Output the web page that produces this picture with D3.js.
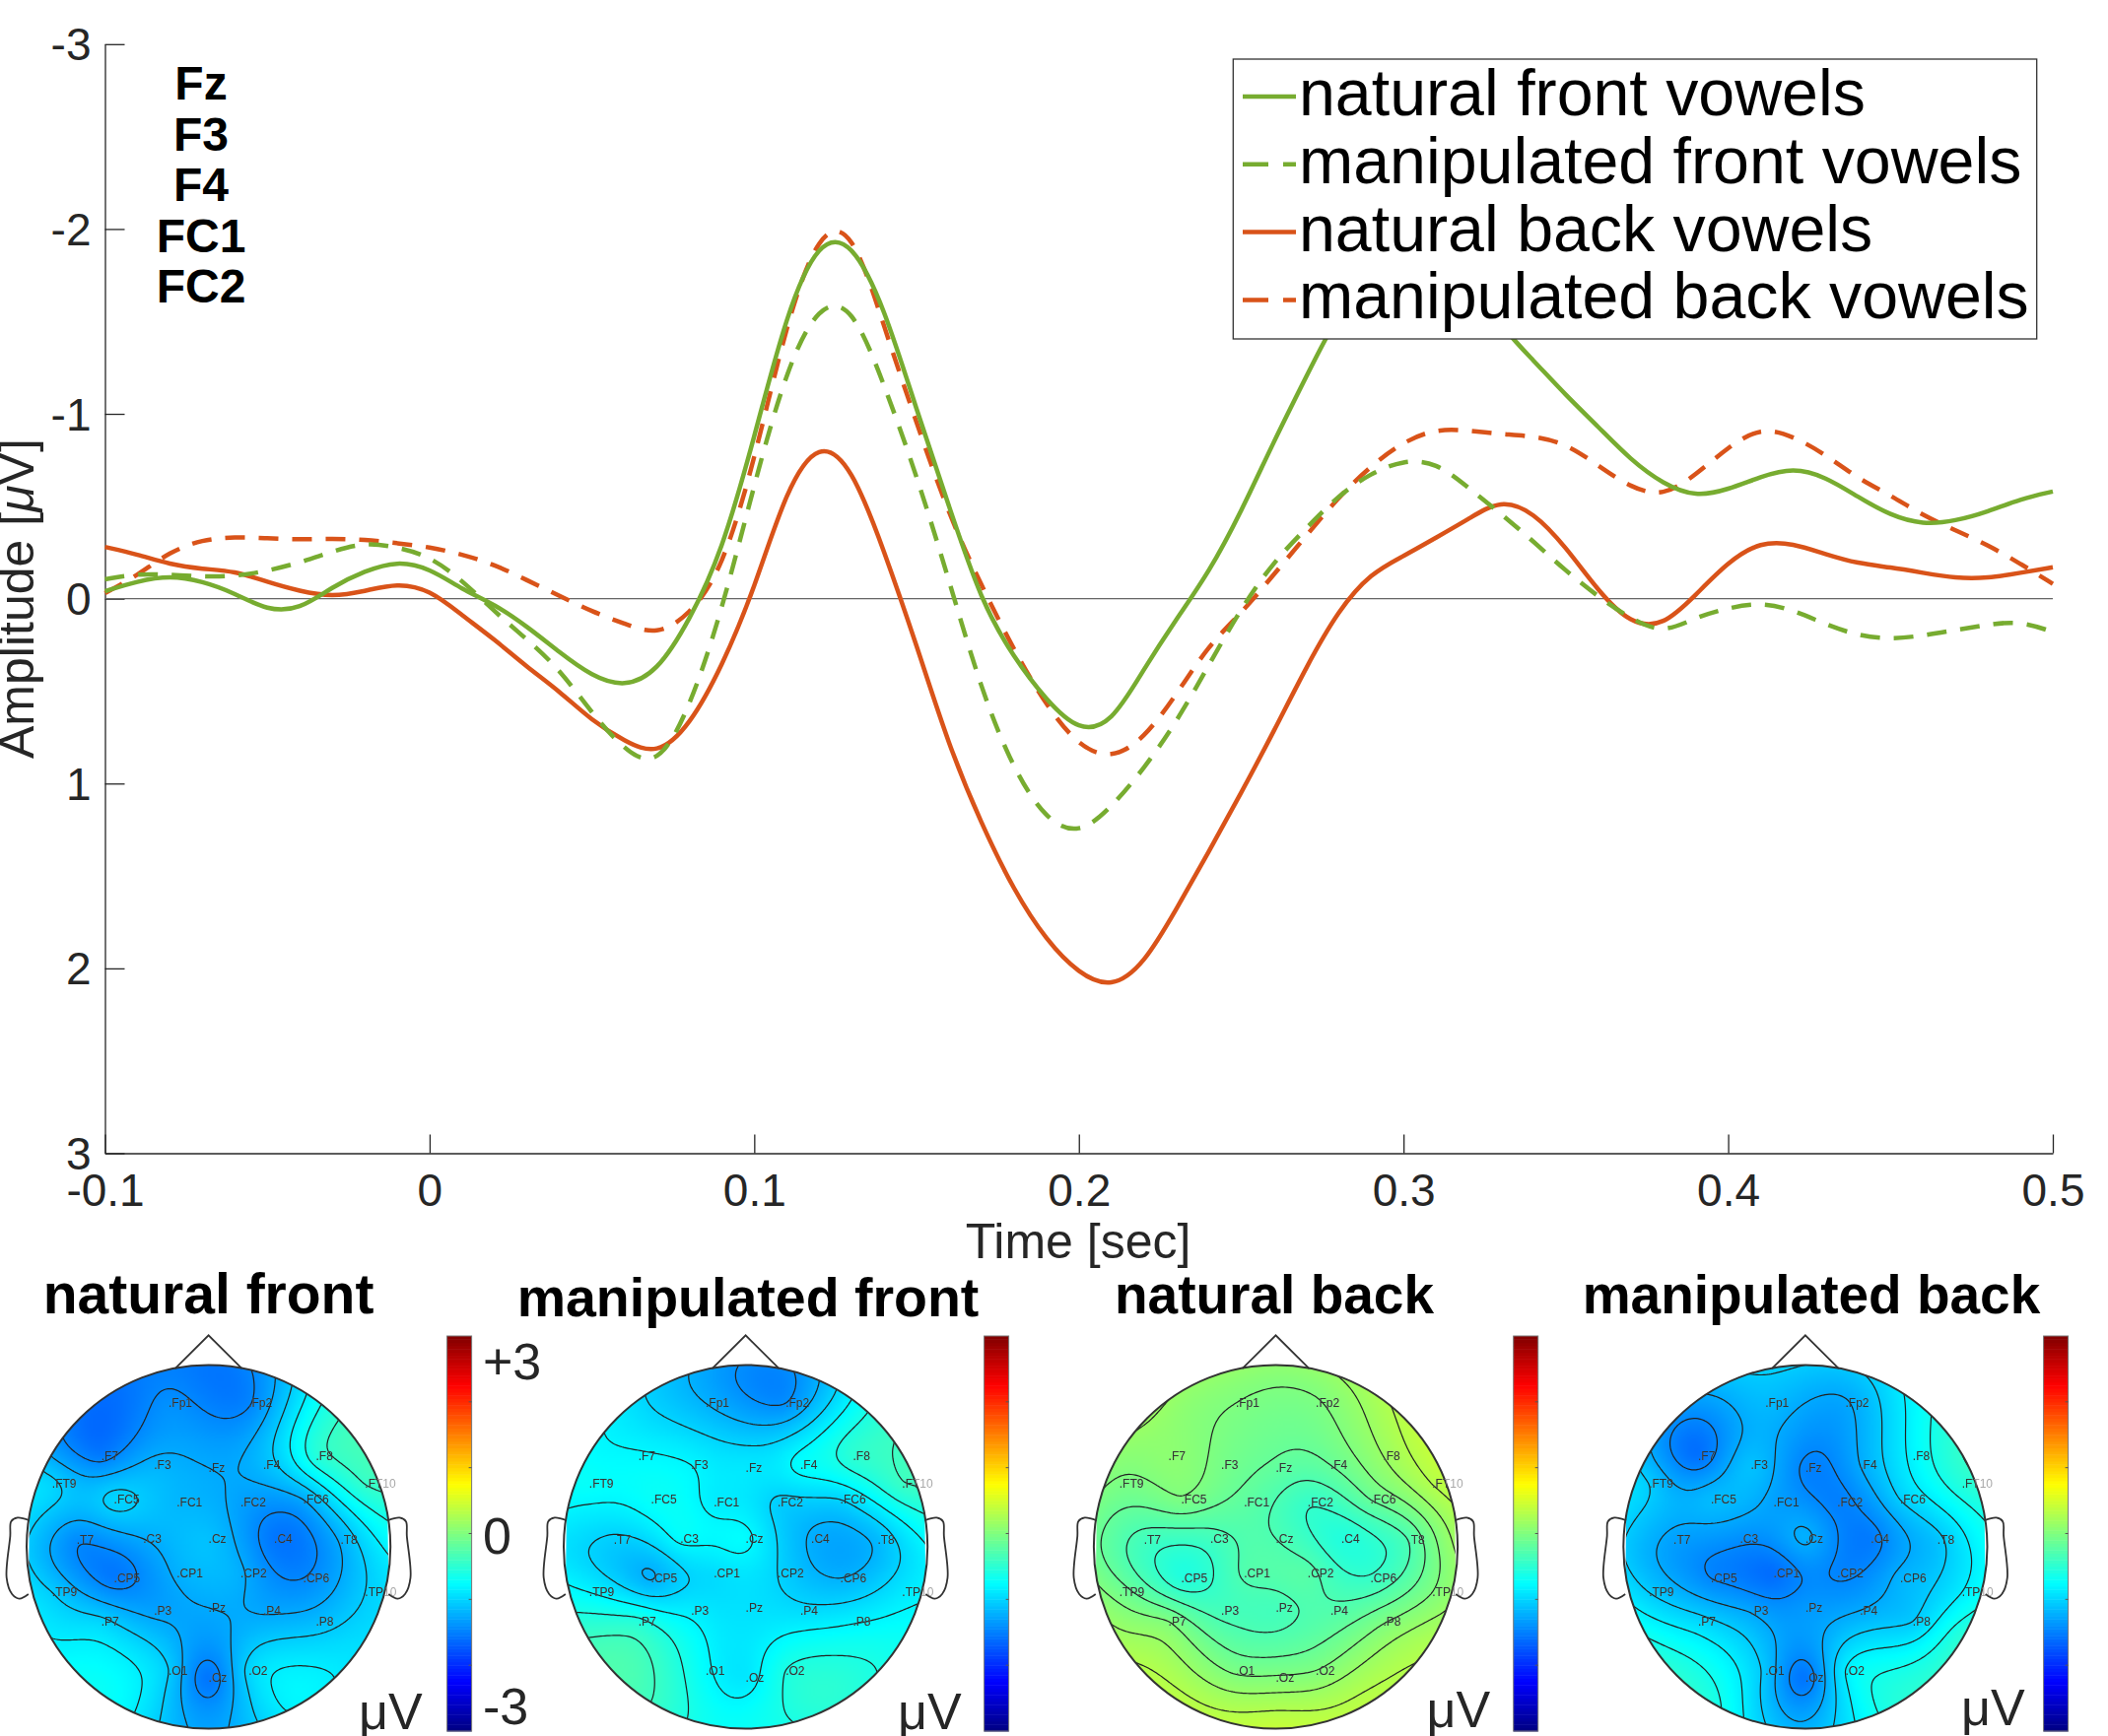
<!DOCTYPE html>
<html>
<head>
<meta charset="utf-8">
<script src="https://cdn.jsdelivr.net/npm/d3@7"></script>
<style>
body { margin: 0; background: #fff; }
text { font-family: "Liberation Sans", Arial, sans-serif; }
</style>
</head>
<body>
<svg id="chart" width="2139" height="1762"></svg>
<script>
// ERP curves, one value every 10 ms from -0.1 to 0.5 s
var times = d3.range(61).map(i => -0.1 + i * 0.01);
var natural_front = [-0.04, -0.095, -0.125, -0.095, -0.03, 0.065, 0.06, -0.065, -0.15, -0.205,
	-0.165, -0.05, 0.03, 0.15, 0.29, 0.42, 0.48, 0.4, 0.12, -0.25,
	-0.87, -1.55, -1.95, -1.94, -1.58, -1.02, -0.5, 0.02, 0.32, 0.55,
	0.72, 0.68, 0.38, 0.11, -0.14, -0.47, -0.85, -1.2, -1.55, -1.78,
	-1.9, -1.92, -1.75, -1.47, -1.29, -1.1, -0.93, -0.75, -0.62, -0.55,
	-0.59, -0.66, -0.71, -0.66, -0.55, -0.45, -0.4, -0.42, -0.47, -0.54, -0.58];
var manipulated_front = [-0.105, -0.135, -0.13, -0.12, -0.12, -0.15, -0.195, -0.255, -0.305, -0.28,
	-0.23, -0.1, 0.07, 0.22, 0.38, 0.62, 0.82, 0.92, 0.6, 0.07,
	-0.62, -1.25, -1.6, -1.6, -1.16, -0.67, -0.1, 0.5, 0.93, 1.2,
	1.28, 1.13, 0.92, 0.67, 0.36, 0.05, -0.2, -0.38, -0.56, -0.68,
	-0.75, -0.74, -0.6, -0.46, -0.31, -0.15, -0.01, 0.11, 0.19, 0.1,
	0.05, 0.02, 0.06, 0.14, 0.2, 0.22, 0.2, 0.17, 0.14, 0.12, 0.18];
var natural_back = [-0.28, -0.24, -0.185, -0.16, -0.15, -0.09, -0.04, -0.01, -0.04, -0.085,
	-0.05, 0.09, 0.22, 0.37, 0.5, 0.66, 0.77, 0.85, 0.69, 0.37,
	-0.05, -0.6, -0.86, -0.72, -0.26, 0.25, 0.8, 1.22, 1.58, 1.85,
	2.03, 2.11, 1.98, 1.68, 1.37, 1.05, 0.72, 0.37, 0.06, -0.14,
	-0.23, -0.33, -0.43, -0.54, -0.47, -0.28, -0.04, 0.14, 0.15, -0.02,
	-0.2, -0.31, -0.3, -0.24, -0.19, -0.17, -0.14, -0.11, -0.11, -0.14, -0.17];
var manipulated_back = [-0.03, -0.125, -0.255, -0.32, -0.335, -0.327, -0.32, -0.325, -0.32, -0.3,
	-0.28, -0.24, -0.185, -0.1, -0.015, 0.07, 0.135, 0.2, 0.09, -0.15,
	-0.74, -1.5, -2.0, -2.02, -1.47, -0.95, -0.45, -0.07, 0.28, 0.58,
	0.8, 0.87, 0.76, 0.52, 0.25, 0.08, -0.13, -0.34, -0.55, -0.72,
	-0.85, -0.92, -0.91, -0.89, -0.88, -0.84, -0.72, -0.6, -0.55, -0.67,
	-0.82, -0.93, -0.88, -0.78, -0.65, -0.56, -0.45, -0.37, -0.29, -0.19, -0.08];

var series_names = ['natural front vowels', 'manipulated front vowels', 'natural back vowels', 'manipulated back vowels'];
var series_values = [natural_front, manipulated_front, natural_back, manipulated_back];
var series_colors = ['#77ac30', '#77ac30', '#d95319', '#d95319'];
var series_dashed = [false, true, false, true];
var drawing_order = [2, 3, 1, 0];

var x_ticks = [-0.1, 0, 0.1, 0.2, 0.3, 0.4, 0.5];
var y_ticks = [-3, -2, -1, 0, 1, 2, 3];
var channel_list = ['Fz', 'F3', 'F4', 'FC1', 'FC2'];

// Electrodes in head units: +x right, +y towards the back of the head
var electrodes = ['Fp1', 'Fp2', 'F7', 'F3', 'Fz', 'F4', 'F8', 'FT9', 'FC5', 'FC1', 'FC2', 'FC6', 'FT10', 'T7', 'C3', 'Cz', 'C4', 'T8', 'TP9', 'CP5', 'CP1', 'CP2', 'CP6', 'TP10', 'P7', 'P3', 'Pz', 'P4', 'P8', 'O1', 'Oz', 'O2'];
var elec_x = [-0.22, 0.22, -0.59, -0.3, 0, 0.3, 0.59, -0.86, -0.52, -0.175, 0.175, 0.52, 0.86, -0.725, -0.36, 0, 0.36, 0.725, -0.86, -0.52, -0.175, 0.175, 0.52, 0.86, -0.59, -0.3, 0, 0.3, 0.59, -0.22, 0, 0.22];
var elec_y = [-0.79, -0.79, -0.5, -0.45, -0.435, -0.45, -0.5, -0.344, -0.26, -0.245, -0.245, -0.26, -0.344, -0.04, -0.045, -0.045, -0.045, -0.04, 0.25, 0.172, 0.145, 0.145, 0.172, 0.25, 0.41, 0.35, 0.335, 0.35, 0.41, 0.68, 0.72, 0.68];

var topo_natural_front = [-1.4, -1.47, -1.52, -1.2, -1.25, -1.15, -0.55, -1.0, -1.0, -1.17, -1.3, -1.25, -0.45, -1.42, -1.25, -1.12, -1.55, -1.22, -1.05, -1.53, -1.22, -1.22, -1.45, -1.05, -1.0, -1.3, -1.25, -1.27, -1.15, -1.05, -1.55, -1.0];
var topo_manipulated_front = [-1.2, -1.4, -0.78, -0.8, -0.88, -0.75, -0.5, -0.72, -0.72, -0.85, -1.03, -1.0, -0.42, -1.03, -0.76, -0.76, -1.22, -1.15, -0.8, -1.21, -0.95, -1.0, -1.2, -0.88, -0.55, -0.85, -0.92, -0.95, -0.82, -0.76, -0.88, -0.6];
var topo_natural_back = [0, -0.02, 0.08, -0.05, -0.18, -0.15, 0.15, -0.03, -0.02, -0.2, -0.43, -0.15, 0.3, -0.36, -0.37, -0.3, -0.55, -0.3, -0.07, -0.55, -0.28, -0.25, -0.43, 0, 0, -0.35, -0.35, -0.27, -0.02, -0.03, 0.02, 0];
var topo_manipulated_back = [-1.15, -1.27, -1.58, -1.12, -1.48, -1.25, -0.8, -1.05, -1.15, -1.3, -1.5, -1.05, -0.55, -1.3, -1.4, -1.22, -1.52, -1.1, -1.05, -1.45, -1.6, -1.47, -1.2, -0.85, -0.97, -1.27, -1.35, -1.25, -1.05, -1.1, -1.55, -0.85];

// Values on the head outline, clockwise from the nose in 30 degree steps
var rim_angles = d3.range(12).map(i => i * 30);
var rim_natural_front = [-1.55, -0.95, -0.35, -0.8, -0.95, -0.8, -1.3, -0.75, -0.85, -1.05, -1.25, -1.58];
var rim_manipulated_front = [-1.42, -1.0, -0.38, -0.8, -0.7, -0.52, -0.7, -0.42, -0.4, -0.92, -0.75, -1.05];
var rim_natural_back = [0.1, 0.22, 0.4, 0.18, 0.25, 0.35, 0.42, 0.35, 0.2, -0.1, 0.08, 0.13];
var rim_manipulated_back = [-1.05, -0.9, -0.45, -0.72, -0.5, -0.55, -1.2, -0.6, -0.65, -1.05, -1.2, -1.2];

// Contour levels of each map
var levels_natural_front = [-1.45, -1.25, -1.05, -0.85, -0.65, -0.45];
var levels_manipulated_front = [-1.4, -1.2, -1.0, -0.8, -0.6, -0.4];
var levels_natural_back = [-0.45, -0.3, -0.15, 0, 0.15, 0.3];
var levels_manipulated_back = [-1.45, -1.25, -1.05, -0.85, -0.65, -0.45];

var map_titles = ['natural front', 'manipulated front', 'natural back', 'manipulated back'];
var map_values = [topo_natural_front, topo_manipulated_front, topo_natural_back, topo_manipulated_back];
var map_rims = [rim_natural_front, rim_manipulated_front, rim_natural_back, rim_manipulated_back];
var map_levels = [levels_natural_front, levels_manipulated_front, levels_natural_back, levels_manipulated_back];

var jet_domain = [-3, -2.25, -0.75, 0.75, 2.25, 3];
var jet_colors = ['#000080', '#0000ff', '#00ffff', '#ffff00', '#ff0000', '#800000'];

// Layout
var plot_left = 106.5, plot_right = 2083, plot_top = 44.8, plot_bottom = 1170.5;
var head_radius = 184.6, head_cy = 1570;
var head_cx = [211.6, 756.6, 1294.5, 1831.9];
var title_x = [211.6, 759, 1293, 1838];
var title_y = [1333, 1336, 1333, 1333];
var title_size = [57, 55.5, 55, 55];
var bar_x = [453.6, 998.6, 1535.7, 2073.6];
var unit_x = [364, 911, 1447.5, 1990];
var unit_y = [1755, 1755, 1753, 1751];

var svg = d3.select('#chart');
var x = d3.scaleLinear().domain([-0.1, 0.5]).range([plot_left, plot_right]);
var y = d3.scaleLinear().domain([-3, 3]).range([plot_top, plot_bottom]);
var jet = d3.scaleLinear().domain(jet_domain).range(jet_colors);
var axis_color = '#262626';

// Axes
var axis_x = svg.append('g').attr('transform', 'translate(0,' + plot_bottom + ')')
	.call(d3.axisBottom(x).tickValues(x_ticks).tickSize(-19).tickPadding(21).tickSizeOuter(0).tickFormat(d => d3.format('.1~f')(d).replace('−', '-')));
var axis_y = svg.append('g').attr('transform', 'translate(' + plot_left + ',0)')
	.call(d3.axisLeft(y).tickValues(y_ticks).tickSize(-20).tickPadding(14).tickSizeOuter(0).tickFormat(d => String(d)));
[axis_x, axis_y].forEach(function(a)
{
	a.selectAll('path, line').attr('stroke', axis_color).attr('stroke-width', 1.3);
	a.selectAll('text').attr('fill', axis_color).attr('font-size', 46).attr('font-family', '"Liberation Sans", Arial, sans-serif');
});
axis_y.selectAll('text').attr('dy', '0.35em');

svg.append('line')
	.attr('x1', x(-0.1)).attr('x2', x(0.5))
	.attr('y1', y(0)).attr('y2', y(0))
	.attr('stroke', '#666').attr('stroke-width', 1.2);

svg.append('text').attr('x', 1094).attr('y', 1277).attr('text-anchor', 'middle')
	.attr('font-size', 50).attr('fill', axis_color).text('Time [sec]');
var y_label = svg.append('text')
	.attr('transform', 'translate(34,607.6) rotate(-90)').attr('text-anchor', 'middle')
	.attr('font-size', 50).attr('fill', axis_color).text('Amplitude [');
y_label.append('tspan').attr('font-style', 'italic').text('μ');
y_label.append('tspan').text('V]');

// ERP lines
var line = d3.line()
	.x((d, i) => x(times[i]))
	.y(d => y(d))
	.curve(d3.curveBasis);
svg.selectAll('.erp')
	.data(drawing_order)
	.enter().append('path')
	.attr('class', 'erp')
	.attr('fill', 'none')
	.attr('stroke', d => series_colors[d])
	.attr('stroke-width', 4.5)
	.attr('stroke-dasharray', d => series_dashed[d] ? '20 14' : null)
	.attr('d', d => line(series_values[d]));

// Channel list
svg.selectAll('.channel')
	.data(channel_list)
	.enter().append('text')
	.attr('class', 'channel')
	.attr('x', 204)
	.attr('y', (d, i) => 101 + i * 51.5)
	.attr('text-anchor', 'middle')
	.attr('font-size', 48)
	.attr('font-weight', 'bold')
	.attr('fill', '#000')
	.text(d => d);

// Legend
var legend = svg.append('g');
legend.append('rect')
	.attr('x', 1251.3).attr('y', 60).attr('width', 815.4).attr('height', 284)
	.attr('fill', '#fff').attr('stroke', '#333').attr('stroke-width', 1.3);
var legend_rows = legend.selectAll('.row')
	.data(series_names)
	.enter().append('g')
	.attr('class', 'row')
	.attr('transform', (d, i) => 'translate(0,' + (98 + i * 68.8) + ')');
legend_rows.append('line')
	.attr('x1', 1261).attr('x2', 1315)
	.attr('stroke', (d, i) => series_colors[i])
	.attr('stroke-width', 4.5)
	.attr('stroke-dasharray', (d, i) => series_dashed[i] ? '26 15' : null);
legend_rows.append('text')
	.attr('x', 1318).attr('y', 19)
	.attr('font-size', 66.3).attr('fill', '#000')
	.text(d => d);

// Topographic maps
function biharmonic(px, py, pv)
{
	var n = pv.length;
	function green(dx, dy)
	{
		var d2 = dx * dx + dy * dy;
		return d2 < 1e-12 ? 0 : d2 * (0.5 * Math.log(d2) - 1);
	}
	// Gaussian elimination for the spline weights
	var m = pv.map((v, i) => px.map((e, j) => green(px[i] - px[j], py[i] - py[j])).concat([v]));
	for(var c = 0; c < n; c++)
	{
		var p = c;
		for(var r = c + 1; r < n; r++)
			if(Math.abs(m[r][c]) > Math.abs(m[p][c])) p = r;
		var tmp = m[c]; m[c] = m[p]; m[p] = tmp;
		for(r = c + 1; r < n; r++)
		{
			var f = m[r][c] / m[c][c];
			for(var k = c; k <= n; k++) m[r][k] -= f * m[c][k];
		}
	}
	var w = new Array(n);
	for(c = n - 1; c >= 0; c--)
	{
		var s = m[c][n];
		for(k = c + 1; k < n; k++) s -= m[c][k] * w[k];
		w[c] = s / m[c][c];
	}
	return (qx, qy) => d3.sum(w, (wi, i) => wi * green(qx - px[i], qy - py[i]));
}

var grid = 180, grid_extent = 1.03;
var rim_x = rim_angles.map(a => Math.sin(a * Math.PI / 180));
var rim_y = rim_angles.map(a => -Math.cos(a * Math.PI / 180));
var all_x = elec_x.concat(rim_x), all_y = elec_y.concat(rim_y);
var from_grid = d3.scaleLinear().domain([0, grid]).range([-grid_extent, grid_extent]);
var label_stroke = '#333';

// Ear and nose outlines in head units
var nose_x = [-0.184, 0, 0.184], nose_y = [-0.98, -1.163, -0.98];
var ear_x = [-0.985, -1.05, -1.085, -1.09, -1.11, -1.08, -1.04, -0.99];
var ear_y = [-0.145, -0.16, -0.14, -0.06, 0.17, 0.26, 0.285, 0.26];

map_titles.forEach(function(title, m)
{
	var g = svg.append('g');
	var hx = d3.scaleLinear().domain([-1, 1]).range([head_cx[m] - head_radius, head_cx[m] + head_radius]);
	var hy = d3.scaleLinear().domain([-1, 1]).range([head_cy - head_radius, head_cy + head_radius]);
	var clip_id = 'head_clip_' + m;
	svg.append('clipPath').attr('id', clip_id).append('circle')
		.attr('cx', hx(0)).attr('cy', hy(0)).attr('r', head_radius);

	var spline = biharmonic(all_x, all_y, map_values[m].concat(map_rims[m]));
	var values = new Float64Array(grid * grid);
	for(var j = 0; j < grid; j++)
		for(var i = 0; i < grid; i++)
			values[i + j * grid] = spline(from_grid(i + 0.5), from_grid(j + 0.5));

	// Colour field
	var canvas = document.createElement('canvas');
	canvas.width = canvas.height = grid;
	var ctx = canvas.getContext('2d');
	values.forEach(function(v, idx)
	{
		ctx.fillStyle = jet(v);
		ctx.fillRect(idx % grid, Math.floor(idx / grid), 1, 1);
	});
	var field = g.append('g').attr('clip-path', 'url(#' + clip_id + ')');
	field.append('image')
		.attr('href', canvas.toDataURL())
		.attr('x', hx(-grid_extent)).attr('y', hy(-grid_extent))
		.attr('width', hx(grid_extent) - hx(-grid_extent))
		.attr('height', hy(grid_extent) - hy(-grid_extent));

	// Contours
	var to_px = d3.geoTransform({ point: function(a, b) { this.stream.point(hx(from_grid(a)), hy(from_grid(b))); } });
	field.append('g').style('filter', 'blur(0.4px)').selectAll('path')
		.data(d3.contours().size([grid, grid]).thresholds(map_levels[m])(values))
		.enter().append('path')
		.attr('fill', 'none')
		.attr('stroke', '#222')
		.attr('stroke-width', 1.2)
		.attr('d', d3.geoPath(to_px));

	// Nose, ears and head ring
	var outline = d3.line().x(d => hx(d[0])).y(d => hy(d[1]));
	g.append('path').attr('d', outline(d3.zip(nose_x, nose_y)))
		.attr('fill', 'none').attr('stroke', label_stroke).attr('stroke-width', 1.8);
	[1, -1].forEach(function(side)
	{
		g.append('path').attr('d', outline.curve(d3.curveCatmullRom)(d3.zip(ear_x.map(e => e * side), ear_y)))
			.attr('fill', '#fff').attr('stroke', label_stroke).attr('stroke-width', 1.8);
	});
	outline.curve(d3.curveLinear);
	g.append('circle').attr('cx', hx(0)).attr('cy', hy(0)).attr('r', head_radius)
		.attr('fill', 'none').attr('stroke', label_stroke).attr('stroke-width', 2);

	// Electrode labels, dim outside the head and dark inside it
	[['#999', null], ['#222', 'url(#' + clip_id + ')']].forEach(function(style)
	{
		var labels = g.append('g').attr('clip-path', style[1]);
		labels.selectAll('text')
			.data(electrodes)
			.enter().append('text')
			.attr('x', (d, i) => hx(elec_x[i]))
			.attr('y', (d, i) => hy(elec_y[i]) + 4)
			.attr('font-size', 12)
			.attr('fill', style[0])
			.attr('fill-opacity', 0.85)
			.style('filter', 'blur(0.3px)')
			.text(d => '.' + d);
	});

	// Title and unit
	g.append('text').attr('x', title_x[m]).attr('y', title_y[m]).attr('text-anchor', 'middle')
		.attr('font-size', title_size[m]).attr('font-weight', 'bold').attr('fill', '#000').text(title);
	g.append('text').attr('x', unit_x[m]).attr('y', unit_y[m])
		.attr('font-size', 52).attr('fill', axis_color).text('μV');

	// Colour bar
	var bar_width = 25;
	var bar_y = d3.scaleLinear().domain([-3, 3]).range([1757, 1356]);
	var bar = g.append('g');
	bar.selectAll('rect')
		.data(d3.range(-3, 3, 0.05))
		.enter().append('rect')
		.attr('x', bar_x[m])
		.attr('y', d => bar_y(d + 0.05))
		.attr('width', bar_width)
		.attr('height', d => bar_y(d) - bar_y(d + 0.05) + 0.5)
		.attr('fill', d => jet(d + 0.025));
	bar.append('rect').attr('x', bar_x[m]).attr('y', bar_y(3))
		.attr('width', bar_width).attr('height', bar_y(-3) - bar_y(3))
		.attr('fill', 'none').attr('stroke', '#777').attr('stroke-width', 1);
	bar.selectAll('line')
		.data(d3.range(-2, 3))
		.enter().append('line')
		.attr('x1', bar_x[m] + bar_width - 3).attr('x2', bar_x[m] + bar_width)
		.attr('y1', d => bar_y(d)).attr('y2', d => bar_y(d))
		.attr('stroke', '#555');
});

// Only the first colour bar is numbered
var bar_labels = [['+3', 1400], ['0', 1577], ['-3', 1750]];
svg.selectAll('.bar_label')
	.data(bar_labels)
	.enter().append('text')
	.attr('class', 'bar_label')
	.attr('x', 490)
	.attr('y', d => d[1])
	.attr('font-size', 52)
	.attr('fill', axis_color)
	.text(d => d[0]);
</script>
</body>
</html>
